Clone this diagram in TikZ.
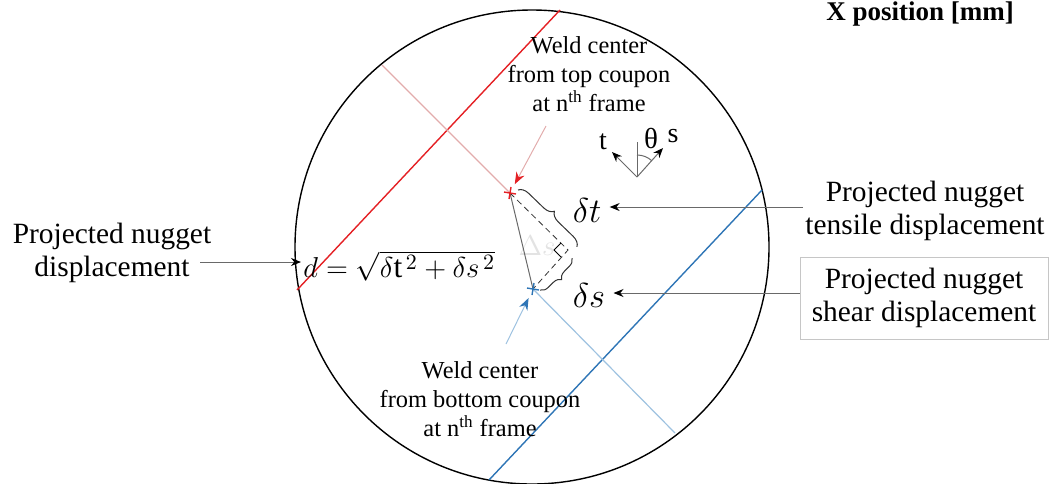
\documentclass[tikz,border=0pt]{standalone}
\usepackage{fontspec}
\setmainfont{Liberation Serif}
\usetikzlibrary{arrows.meta,positioning,decorations.pathreplacing}
\definecolor{weldred}{RGB}{228,32,36}
\definecolor{paleweldred}{RGB}{226,172,172}
\definecolor{weldblue}{RGB}{46,117,182}
\definecolor{paleweldblue}{RGB}{158,194,224}
\definecolor{leadgray}{RGB}{105,105,105}

\begin{document}
\begin{tikzpicture}[x=0.5pt,y=-0.5pt,
    labeltext/.style={font=\fontsize{14.7}{16.6}\selectfont, align=center, inner sep=1pt},
    weldtext/.style={font=\fontsize{12.2}{14.5}\selectfont, align=center, inner sep=1pt},
    mathtext/.style={font=\fontsize{16.5}{19}\selectfont, inner sep=1pt},
    lead/.style={draw=leadgray, line width=0.5pt, -{Stealth[black,length=5pt,width=4pt]}},
    curly/.style={decorate, decoration={brace, amplitude=#1}, draw=black!80, line width=0.5pt}]
  \useasboundingbox (0,0) rectangle (1063,483);

  % field of view
  \coordinate (fov) at (532,247);
  \draw[line width=0.7pt] (fov) circle[radius=237];

  % coupon edges and their normals
  \draw[weldred, line width=0.7pt] (560,10) -- (297,290);
  \draw[weldblue, line width=0.7pt] (762,190) -- (489,480);
  \coordinate (topC) at (510,193);
  \coordinate (botC) at (533,289);
  \coordinate (corner) at (568,250);
  \draw[paleweldred, line width=0.6pt] (382,65) -- (topC);
  \draw[paleweldblue, line width=0.6pt] (botC) -- (675,433);

  % displacement triangle
  \node[mathtext, font=\fontsize{14}{16}\selectfont, text=gray!22] (ghost) at (537,246) {$\Delta s$};
  \draw[leadgray, line width=0.5pt] (topC) -- (botC);
  \draw[black!80, densely dashed, line width=0.4pt] (topC) -- (corner) -- (botC);
  \draw[black, line width=0.5pt] (561,243) -- (554,250) -- (561,257);

  % weld centre marks
  \draw[weldred, line width=0.7pt] (topC) ++(-6,-1) -- ++(12,2) (topC) ++(1,-6) -- ++(-2,12);
  \draw[weldblue, line width=0.7pt] (botC) ++(-6,-1) -- ++(12,2) (botC) ++(1,-6) -- ++(-2,12);

  % braces
  \draw[curly=5pt] (518,190) -- (577,247);
  \draw[curly=4pt] (572,258) -- (540,290);
  \node[mathtext] (dt) at (587,210) {$\delta t$};
  \node[mathtext] (ds) at (589,295) {$\delta s$};

  % formula
  \node[mathtext, font=\fontsize{15.8}{19}\selectfont, anchor=west] (formula) at (301,266)
    {$d = \sqrt{\delta\mathrm{t}^{\,2} + \delta s^{\,2}}$};

  % frame axes
  \coordinate (frameO) at (637,177);
  \coordinate (frameUp) at (637,142);
  \coordinate (tTip) at (612,152);
  \coordinate (sTip) at (663,148);
  \draw[leadgray, line width=0.5pt] (frameO) -- (frameUp);
  \draw[lead] (frameO) -- (tTip);
  \draw[lead] (frameO) -- (sTip);
  \draw[leadgray, line width=0.5pt] (frameO) ++(-90:22) arc[start angle=-90, end angle=-48, radius=22];
  \node[weldtext, font=\fontsize{14}{16}\selectfont] (tlbl) at (603,142) {t};
  \node[weldtext, font=\fontsize{14.5}{16}\selectfont] (thlbl) at (651,138) {θ};
  \node[weldtext, font=\fontsize{14}{16}\selectfont] (slbl) at (673,136) {s};

  % weld centre labels
  \node[weldtext] (topweld) at (589,74) {Weld center\\from top coupon\\at n\textsuperscript{th} frame};
  \node[weldtext] (botweld) at (480,399) {Weld center\\from bottom coupon\\at n\textsuperscript{th} frame};
  \coordinate (topTail) at (546,126);
  \coordinate (botTail) at (506,344);
  \draw[draw=paleweldred, line width=0.5pt, -{Stealth[weldred,length=6pt,width=4.5pt]}, shorten >=5pt] (topTail) -- (topC);
  \draw[draw=paleweldblue, line width=0.5pt, -{Stealth[weldblue,length=6pt,width=4.5pt]}, shorten >=5pt] (botTail) -- (botC);

  % displacement labels
  \node[labeltext] (nuggetlbl) at (112,253) {Projected nugget\\displacement};
  \coordinate (nuggetTail) at (200,262);
  \draw[lead] (nuggetTail) -- (formula.west |- nuggetTail);

  \node[labeltext] (tensilelbl) at (925,211) {Projected nugget\\tensile displacement};
  \draw[lead, shorten >=3pt] (803,207) -- (dt.east |- 803,207);

  \node[labeltext, draw=gray!45, line width=0.4pt, minimum width=124pt, minimum height=41pt]
    (shearlbl) at (924,298) {Projected nugget\\shear displacement};
  \draw[lead, shorten >=3pt] (shearlbl.west |- 0,293) -- (ds.east |- 0,293);

  % axis title, cut by the top edge
  \node[font=\fontsize{13.5}{16}\selectfont\bfseries, anchor=base, inner sep=0pt] (xtitle) at (920,20) {X position [mm]};
\end{tikzpicture}
\end{document}
